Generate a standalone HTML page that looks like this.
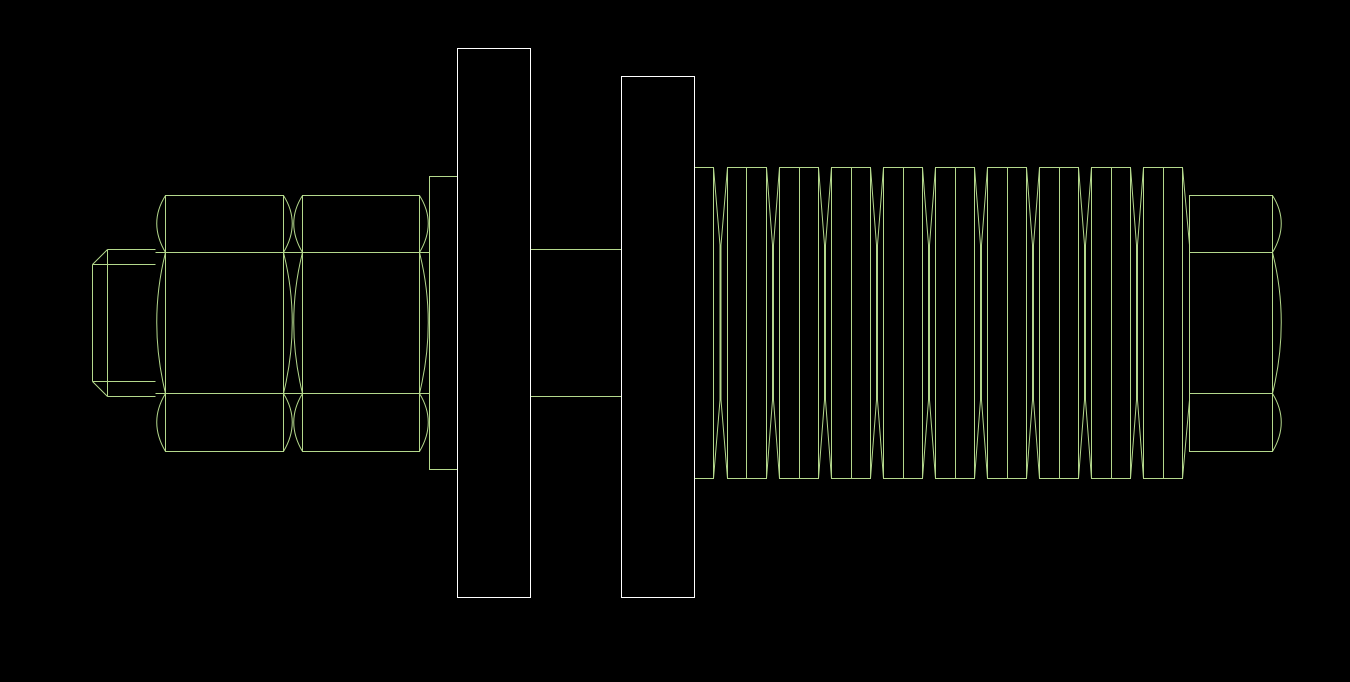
<!DOCTYPE html>
<html><head><meta charset="utf-8"><style>html,body{margin:0;padding:0;background:#000}svg{display:block}</style></head>
<body>
<svg width="1350" height="682" viewBox="0 0 1350 682" xmlns="http://www.w3.org/2000/svg">
<g fill="none" stroke="#b4d88c" stroke-width="1">
<!-- stud -->
<path d="M107.5,249.5H155.5M92.5,264.5H155.5M92.5,381.5H155.5M107.5,396.5H155.5M92.5,264.5V381.5M107.5,249.5V396.5M92.5,264.5L107.5,249.5M92.5,381.5L107.5,396.5"/>
<!-- nut 1 -->
<rect x="165.5" y="195.5" width="118" height="256"/>
<path d="M155.5,252.5H292.5M155.5,393.5H292.5"/>
<path d="M165.5,195.5Q148,223 165.5,252.5Q148,322 165.5,393.5Q148,422 165.5,451.5"/>
<path d="M283.5,195.5Q301,223 283.5,252.5Q301,322 283.5,393.5Q301,422 283.5,451.5"/>
<!-- nut 2 -->
<rect x="302.5" y="195.5" width="117" height="256"/>
<path d="M292.5,252.5H429.5M292.5,393.5H429.5"/>
<path d="M302.5,195.5Q285,223 302.5,252.5Q285,322 302.5,393.5Q285,422 302.5,451.5"/>
<path d="M419.5,195.5Q437,223 419.5,252.5Q437,322 419.5,393.5Q437,422 419.5,451.5"/>
<!-- washer -->
<rect x="429.5" y="176.5" width="28" height="293"/>
<!-- shaft -->
<path d="M530.5,249.5H621.5M530.5,396.5H621.5"/>
<!-- spring -->
<path d="M694.5,167.5H713.5V478.5H694.5M713.5,167.5V478.5"/>
<path d="M713.5,167.5L720,245V400L713.5,478.5M727.5,167.5L721,245V400L727.5,478.5"/>
<rect x="727.5" y="167.5" width="39" height="311"/><path d="M746.5,167.5V478.5"/>
<rect x="779.5" y="167.5" width="39" height="311"/><path d="M799.5,167.5V478.5"/>
<rect x="831.5" y="167.5" width="39" height="311"/><path d="M851.5,167.5V478.5"/>
<rect x="883.5" y="167.5" width="39" height="311"/><path d="M903.5,167.5V478.5"/>
<rect x="935.5" y="167.5" width="39" height="311"/><path d="M955.5,167.5V478.5"/>
<rect x="987.5" y="167.5" width="39" height="311"/><path d="M1007.5,167.5V478.5"/>
<rect x="1039.5" y="167.5" width="39" height="311"/><path d="M1059.5,167.5V478.5"/>
<rect x="1091.5" y="167.5" width="39" height="311"/><path d="M1111.5,167.5V478.5"/>
<rect x="1143.5" y="167.5" width="39" height="311"/><path d="M1163.5,167.5V478.5"/>
<path d="M766.5,167.5L772.5,245V400L766.5,478.5M779.5,167.5L773.5,245V400L779.5,478.5"/>
<path d="M818.5,167.5L824.5,245V400L818.5,478.5M831.5,167.5L825.5,245V400L831.5,478.5"/>
<path d="M870.5,167.5L876.5,245V400L870.5,478.5M883.5,167.5L877.5,245V400L883.5,478.5"/>
<path d="M922.5,167.5L928.5,245V400L922.5,478.5M935.5,167.5L929.5,245V400L935.5,478.5"/>
<path d="M974.5,167.5L980.5,245V400L974.5,478.5M987.5,167.5L981.5,245V400L987.5,478.5"/>
<path d="M1026.5,167.5L1032.5,245V400L1026.5,478.5M1039.5,167.5L1033.5,245V400L1039.5,478.5"/>
<path d="M1078.5,167.5L1084.5,245V400L1078.5,478.5M1091.5,167.5L1085.5,245V400L1091.5,478.5"/>
<path d="M1130.5,167.5L1136.5,245V400L1130.5,478.5M1143.5,167.5L1137.5,245V400L1143.5,478.5"/>
<path d="M1182.5,167.5L1189.5,245M1189.5,400L1182.5,478.5"/>
<!-- right nut -->
<rect x="1189.5" y="195.5" width="83" height="256"/>
<path d="M1189.5,252.5H1272.5M1189.5,393.5H1272.5"/>
<path d="M1272.5,195.5Q1290,223 1272.5,252.5Q1290,322 1272.5,393.5Q1290,422 1272.5,451.5"/>
</g>
<g fill="none" stroke="#ffffff" stroke-width="1">
<rect x="457.5" y="48.5" width="73" height="549"/>
<rect x="621.5" y="76.5" width="73" height="521"/>
</g>
</svg>
</body></html>
